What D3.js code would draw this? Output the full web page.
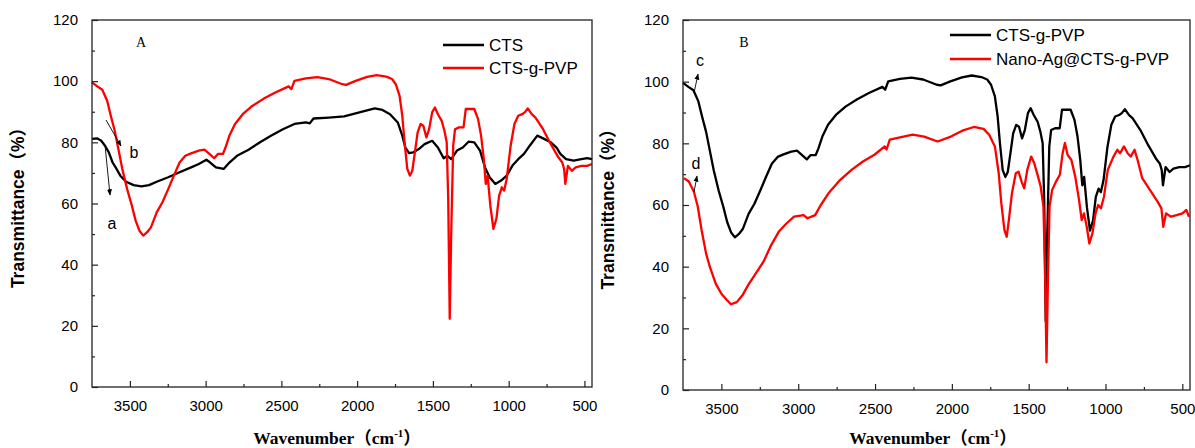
<!DOCTYPE html>
<html><head><meta charset="utf-8">
<script src="https://cdn.jsdelivr.net/npm/d3@7"></script>
<style>body{margin:0;background:#fff}svg{display:block}</style>
</head><body>
<svg id="c" width="1195" height="448"></svg>
<script>
// ---- data (wavenumber cm-1, transmittance %) ----
const cts_wn = [3750,3715,3689,3664,3639,3614,3588,3563,3525,3475,3424,3374,3323,3247,3172,3096,3045,2995,2970,2932,2881,2843,2793,2717,2641,2566,2490,2414,2338,2313,2288,2187,2086,1985,1884,1833,1783,1732,1702,1682,1657,1631,1593,1555,1505,1467,1429,1404,1379,1341,1303,1265,1227,1189,1156,1126,1088,1050,1013,975,937,899,861,811,773,722,684,659,621,571,520,482,450];
const cts_t  = [81.1,81.3,80.5,78.9,76.7,73.4,71.3,69.1,67.1,66.0,65.6,66.0,67.1,68.6,70.2,71.8,72.9,74.3,73.4,71.8,71.3,73.4,75.6,77.6,80.0,82.2,84.3,86.0,86.5,86.2,87.8,88.1,88.5,89.8,91.1,90.6,89.2,86.5,82.2,78.3,76.5,76.7,77.8,79.4,80.5,78.3,74.8,75.6,74.5,77.3,78.3,80.2,80.0,77.3,71.8,68.6,66.4,67.5,69.1,72.4,74.5,76.2,78.9,82.2,81.3,80.0,78.3,76.2,74.5,74.0,74.5,74.8,74.5];

const pvp_wn = [3750,3715,3682,3650,3626,3600,3576,3550,3518,3487,3462,3437,3412,3386,3361,3323,3285,3247,3210,3172,3134,3096,3045,3008,2975,2944,2919,2886,2869,2843,2806,2755,2692,2616,2540,2452,2434,2414,2338,2263,2187,2098,2073,2010,1934,1871,1808,1770,1745,1720,1702,1687,1669,1652,1636,1619,1601,1581,1563,1543,1525,1505,1487,1467,1442,1424,1409,1399,1389,1379,1366,1354,1328,1298,1283,1253,1227,1202,1182,1164,1151,1139,1121,1101,1081,1063,1045,1030,1013,987,962,937,911,894,874,848,823,773,722,672,646,634,626,609,583,558,520,482,450];
const pvp_t  = [99.6,98.3,97.2,93.6,88.7,83.8,77.8,71.3,64.7,59.3,54.4,51.1,49.5,50.6,52.2,57.1,60.4,64.7,69.1,73.4,75.6,76.4,77.3,77.6,76.2,74.8,76.2,76.2,78.3,82.2,86.0,89.2,91.9,94.3,96.3,98.3,97.4,100.1,100.9,101.3,100.7,99.0,98.8,100.1,101.4,102.0,101.5,100.7,99.0,95.2,88.7,80.0,71.3,69.1,70.7,76.7,83.2,86.0,85.4,81.6,84.3,89.8,91.4,89.2,87.0,83.8,80.0,61.5,22.3,50.6,78.9,84.3,84.9,84.9,90.9,90.9,90.9,87.6,82.2,74.5,66.4,69.1,59.3,51.7,55.0,62.6,65.3,64.2,68.0,78.9,86.0,88.7,89.2,89.8,91.1,89.2,88.1,84.3,79.4,75.1,73.4,71.3,66.4,72.3,70.7,71.8,72.3,72.3,72.9];

const ag_wn = [3744,3712,3679,3654,3629,3600,3575,3537,3500,3463,3438,3400,3363,3326,3276,3226,3176,3127,3077,3027,2965,2940,2890,2853,2803,2728,2653,2579,2504,2437,2425,2404,2330,2255,2180,2093,2006,1932,1857,1794,1757,1720,1695,1678,1658,1643,1629,1609,1584,1566,1546,1529,1509,1484,1464,1439,1422,1404,1394,1384,1374,1364,1347,1322,1297,1279,1264,1247,1222,1197,1172,1155,1140,1122,1105,1085,1065,1048,1030,1010,985,948,923,905,880,856,836,811,791,761,711,661,636,624,606,574,537,499,474,457];
const ag_t  = [68.7,67.6,64.3,59.5,51.9,44.3,39.9,34.5,31.2,29.1,27.8,28.5,30.7,34.0,37.8,41.6,47.0,51.3,54.0,56.2,56.7,55.7,56.7,60.0,63.8,68.1,71.4,74.1,76.3,79.0,78.0,81.2,82.0,82.8,82.2,80.6,82.2,84.1,85.3,84.7,82.8,79.0,70.3,60.5,51.9,49.7,55.1,63.8,70.3,70.8,67.6,65.4,71.4,75.7,73.6,69.2,66.0,59.5,39.9,9.0,37.8,59.5,64.9,67.6,69.8,76.8,80.1,76.3,74.6,69.2,61.6,55.1,57.3,52.9,47.5,50.8,57.3,60.0,58.9,62.7,71.4,75.7,77.9,76.8,79.0,76.8,75.7,77.9,74.6,68.7,64.9,61.1,58.9,52.9,57.3,56.2,56.7,57.3,58.4,56.2];

const xTicks = [3500,3000,2500,2000,1500,1000,500];
const yTicks = [0,20,40,60,80,100,120];

const panels = [
  {left:92, right:592, top:20, bottom:387, label:"A", labelPos:[141,47],
   series:[{name:"CTS", wn:cts_wn, t:cts_t, color:"#000"},{name:"CTS-g-PVP", wn:pvp_wn, t:pvp_t, color:"#f00"}],
   legend:{x1:443,x2:484,tx:489,y:[45,68]},
   arrows:[{from:[106,120],to:[121,146]},{from:[105,145],to:[110,195]}],
   notes:[{t:"b",x:134,y:158},{t:"a",x:112,y:229}],
   ytitleX:24, xtitleX:337},
  {left:683, right:1190, top:20, bottom:390, label:"B", labelPos:[744,47],
   series:[{name:"CTS-g-PVP", wn:pvp_wn, t:pvp_t, color:"#000"},{name:"Nano-Ag@CTS-g-PVP", wn:ag_wn, t:ag_t, color:"#f00"}],
   legend:{x1:950,x2:991,tx:996,y:[35,59]},
   arrows:[{from:[694,93],to:[698,74]},{from:[694,192],to:[697,176]}],
   notes:[{t:"c",x:700,y:66},{t:"d",x:696,y:169}],
   ytitleX:614, xtitleX:933}
];

const svg = d3.select("#c");
const defs = svg.append("defs");
defs.append("marker").attr("id","ah").attr("viewBox","0 0 10 10").attr("refX",9).attr("refY",5)
  .attr("markerWidth",7).attr("markerHeight",7).attr("orient","auto")
  .append("path").attr("d","M0,1 L10,5 L0,9 Z").attr("fill","#000");

panels.forEach(p=>{
  const x = d3.scaleLinear().domain([3750,450]).range([p.left,p.right]);
  const y = d3.scaleLinear().domain([0,120]).range([p.bottom,p.top]);
  const g = svg.append("g");

  // curves
  const line = d3.line().x(d=>x(d[0])).y(d=>y(d[1]));
  p.series.forEach(s=>{
    g.append("path").datum(s.wn.map((w,i)=>[w,s.t[i]]))
      .attr("d",line).attr("fill","none").attr("stroke",s.color)
      .attr("stroke-width",2.3).attr("stroke-linejoin","round");
  });

  // frame
  g.append("rect").attr("x",p.left).attr("y",p.top).attr("width",p.right-p.left).attr("height",p.bottom-p.top)
    .attr("fill","none").attr("stroke","#222").attr("stroke-width",1.3);

  // axes
  const xa = d3.axisBottom(x).tickValues(xTicks).tickSize(-6).tickPadding(13).tickFormat(d3.format("d"));
  const xm = d3.axisBottom(x).tickValues(d3.range(750,3750,500)).tickSize(-3).tickFormat("");
  const ya = d3.axisLeft(y).tickValues(yTicks).tickSize(-6).tickPadding(14);
  const ym = d3.axisLeft(y).tickValues(d3.range(10,120,20)).tickSize(-3).tickFormat("");
  [[xa,"x"],[xm,"x"]].forEach(([a])=>{
    const ag = g.append("g").attr("transform",`translate(0,${p.bottom})`).call(a);
    ag.select(".domain").remove();
  });
  [[ya],[ym]].forEach(([a])=>{
    const ag = g.append("g").attr("transform",`translate(${p.left},0)`).call(a);
    ag.select(".domain").remove();
  });
  g.selectAll(".tick line").attr("stroke","#222").attr("stroke-width",1.2);
  g.selectAll(".tick text").attr("font-family","'Liberation Sans',Arial,sans-serif").attr("font-size",15).attr("fill","#000");

  // axis titles
  g.append("text").attr("transform",`translate(${p.ytitleX},${(p.top+p.bottom)/2}) rotate(-90)`)
    .attr("text-anchor","middle").attr("font-family","'Liberation Sans',Arial,'Noto Sans CJK SC',sans-serif")
    .attr("font-weight","bold").attr("font-size",17.5).text("Transmittance（%）");
  const xt = g.append("text").attr("x",p.xtitleX).attr("y",444).attr("text-anchor","middle")
    .attr("font-family","'Liberation Serif','Times New Roman','Noto Sans CJK SC',serif").attr("font-weight","bold").attr("font-size",17.5);
  xt.append("tspan").text("Wavenumber（cm");
  xt.append("tspan").attr("dy",-7).attr("font-size",11).text("-1");
  xt.append("tspan").attr("dy",7).text("）");

  // panel label
  g.append("text").attr("x",p.labelPos[0]).attr("y",p.labelPos[1]).attr("text-anchor","middle")
    .attr("font-family","'Liberation Serif','Times New Roman',serif").attr("font-size",14).text(p.label);

  // legend
  p.series.forEach((s,i)=>{
    const ly = p.legend.y[i];
    g.append("line").attr("x1",p.legend.x1).attr("x2",p.legend.x2).attr("y1",ly).attr("y2",ly)
      .attr("stroke",s.color).attr("stroke-width",2.6);
    g.append("text").attr("x",p.legend.tx).attr("y",ly+6).attr("font-family","'Liberation Sans',Arial,sans-serif")
      .attr("font-size",17).text(s.name);
  });

  // annotations
  p.arrows.forEach(a=>{
    g.append("line").attr("x1",a.from[0]).attr("y1",a.from[1]).attr("x2",a.to[0]).attr("y2",a.to[1])
      .attr("stroke","#000").attr("stroke-width",0.9).attr("marker-end","url(#ah)");
  });
  p.notes.forEach(n=>{
    g.append("text").attr("x",n.x).attr("y",n.y).attr("text-anchor","middle")
      .attr("font-family","'Liberation Sans',Arial,sans-serif").attr("font-size",16).text(n.t);
  });
});
</script>
</body></html>
